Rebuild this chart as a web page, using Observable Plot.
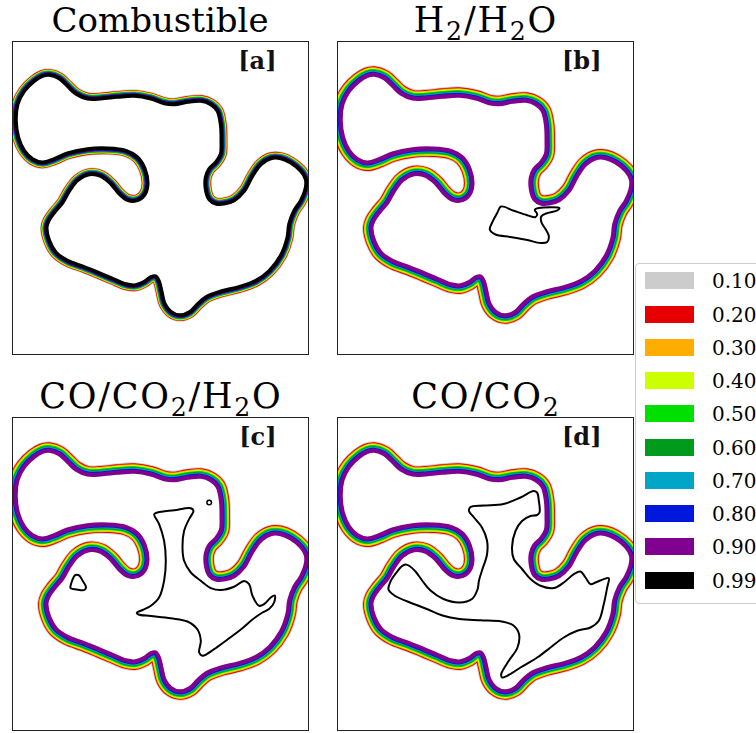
<!DOCTYPE html>
<html><head><meta charset="utf-8">
<script src="https://cdn.jsdelivr.net/npm/d3@7"></script>
<script src="https://cdn.jsdelivr.net/npm/@observablehq/plot@0.6"></script>
<style>
html,body{margin:0;padding:0;background:#fff;}
body{width:756px;height:733px;position:relative;overflow:hidden;font-family:"DejaVu Serif",serif;color:#000;}
.panel{position:absolute;}
.title{position:absolute;text-align:center;font-size:34px;line-height:34px;white-space:nowrap;}
.chem{letter-spacing:0.05em;padding-left:0.05em;box-sizing:border-box;font-size:35px;}
.sub{font-size:0.72em;position:relative;top:0.3em;}
#legend{position:absolute;left:635px;top:263px;width:150px;height:339px;border:1px solid #ccc;border-radius:4px;background:#fff;}
.row{position:absolute;left:9px;height:17px;width:140px;}
.sw{position:absolute;left:0;top:0;width:49px;height:17px;}
.lab{position:absolute;left:67px;top:-1px;font-size:20px;line-height:20px;white-space:nowrap;}
</style></head>
<body>
<div id="root"></div>
<script>
// ---- data (frame-relative coordinates, y measured downward) ----
const levels = ["0.10","0.20","0.30","0.40","0.50","0.60","0.70","0.80","0.90","0.99"];
const levelColors = ["#cccccc","#e60000","#ffae00","#ccff00","#00e000","#009a1c","#00a5c7","#0018dc","#80008f","#000000"];

const panelTitles = ["Combustible","H<span class='sub'>2</span>/H<span class='sub'>2</span>O","CO/CO<span class='sub'>2</span>/H<span class='sub'>2</span>O","CO/CO<span class='sub'>2</span>"];
const panelLabels = ["[a]","[b]","[c]","[d]"];

const frontX = [36.7,46.7,55,63.3,75,88.3,105,121.7,138.3,151.7,161.7,175,188.3,198.3,205,208.3,209,208.3,203.3,196.7,193.3,193.3,196.7,203.3,211.7,221.7,231.7,240,248.3,258.3,268.3,278.3,288.3,293.3,293.3,288.3,281.7,276.7,275,268.3,257,243.5,226.5,208.5,194,185,177.5,167.5,158.5,152,149,146.5,143,138.5,131.5,123,113.5,100.5,87,71.7,55,43.3,36.7,34,36,41.7,50,56.7,65,76.7,88.3,98.3,106.7,115,125,132.3,135,132.3,125,113.3,95,75,55,41.7,30,20,11.7,5.7,3.3,5,11.7,21.7,30];
const frontY = [33.3,36.7,44.3,52,57,57,55.3,54.3,57,61.7,62.7,60.3,59.3,62.7,69.3,82.7,99.3,112.7,121,127.7,136,147.7,157.7,162,162,158.7,149.3,134.3,122.7,116.7,116.7,121,129.3,137.7,146,159.3,169.3,182.7,196,214.3,229.3,239.3,245.6,250,255.5,263,270.5,273.8,270.5,262,250,240,234.8,235.5,240.5,243.8,242.8,237.5,231.8,225.5,219.3,211,199.3,186,179.3,171,161,149.3,138.7,132.7,134.3,142,152,158.3,158.7,152.7,142.7,127.7,116,109.3,107,107.7,112,117.7,121,117.7,109.3,96,79.3,62.7,49.3,39.3,34.3];

// panel [b] 0.99 contour
const b99X = [163.5,176.3,189.7,198,199.7,197.3,201.3,222,219.7,209.7,203.7,204,208,211.3,209.7,203,189.7,173,158,152.3,154.7,159.7];
const b99Y = [165,169.3,173.7,175.7,172.6,168.3,166.6,166.6,169,171.6,175,181,187.6,194.3,200.5,201.5,198.5,195.5,193,188,181,171.6];

// panel [c] 0.99 contours
const c99X = [141.7,145,161.7,178.3,181,176.6,171.6,170,171.6,178.3,188.3,198.3,208.3,221.6,231.6,236.6,240,246.6,251.6,258.3,262.3,261.6,256.6,250,240,228.3,215,201.7,190,186.7,188.3,185,175,158.3,138.3,126,124.3,130,138,146.6,151.6,153.3,151.6,146.6];
const c99Y = [96.7,95,92.7,90.7,93.3,101.6,113.3,130,143.3,155,163.3,170.6,172.6,169.3,163.5,166.6,178.3,188.3,186.6,180,178,185,191.6,195,202,212,222,231.7,238.3,235,223.3,212,204,200.8,198.5,197,195.3,192.5,188.5,180,163.3,143.3,123.3,106.6];
const c99TriX = [63,66.5,70,73.5,72,64,58,59,61];
const c99TriY = [157.5,157.8,163,169.5,172.5,172,170.5,165,160];
const c99DotX = [196.7];
const c99DotY = [85];

// panel [d] 0.99 contour
const d99X = [51,53,59,64,68,72,78,85,93,106,122,134.5,140,141.5,144.5,149.5,149.5,144.5,136.5,131.5,133,146,166,183,196,199.5,201.3,202,199.5,193,184.5,178,174.5,176.3,184.5,193,203,216.3,226.3,236.3,243,248,253,258,266.3,271.3,269.7,266.3,261.3,253,239.7,226.3,213,199.7,183,169.7,164.7,163.7,171.3,180,181.5,176,164,143,122,105,88,70,57];
const d99Y = [172,164,155,149,147,148.5,154,163.5,173,181.5,185,181.5,172,163,153,137,123,110,100,93.5,89.5,88,86.5,80,73.5,75,83,95,97.5,98.5,103.5,113.5,130,141.5,151.5,161.5,168.3,170.6,165,156.6,154,160,166.6,165,161.6,160.6,170,186.6,203.3,210,213.3,220,230,240,250,258.3,260,256.6,243.3,230,216.6,208,204,202.8,201.5,198,191,184,178];

// ---- helpers ----
const pts = (xs, ys) => xs.map((x, i) => ({x, y: ys[i]}));
const front = pts(frontX, frontY);
const lineOpts = {x: "x", y: "y", curve: "catmull-rom-closed", clip: true};

// band styling (outer distances of each level from the front line, in px)
const bandWide = [9.4, 8.5, 7.6, 6.7, 5.8, 4.9, 4.0, 3.1, 2.0];
const bandA = [6.5, 5.8, 5.2, 4.7, 4.2, 3.8, 3.4, 3.0, 2.5];

function frontMarks(dist, coreColor, coreWidth) {
  return [
    ...dist.map((d, i) => Plot.line(front, {...lineOpts, stroke: levelColors[i], strokeWidth: 2 * d})),
    Plot.line(front, {...lineOpts, stroke: "none", fill: "white"}),
    Plot.line(front, {...lineOpts, stroke: coreColor, strokeWidth: coreWidth})
  ];
}
const inner = (xs, ys) => Plot.line(pts(xs, ys), {...lineOpts, stroke: "#000", strokeWidth: 2, fill: "none"});

const panelMarks = [
  frontMarks(bandA, levelColors[9], 4.0),
  [...frontMarks(bandWide, levelColors[8], 4.0), inner(b99X, b99Y)],
  [...frontMarks(bandWide, levelColors[8], 4.0), inner(c99X, c99Y), inner(c99TriX, c99TriY),
    Plot.dot(pts(c99DotX, c99DotY), {x: "x", y: "y", r: 2.3, stroke: "#000", strokeWidth: 1.5, fill: "none"})],
  [...frontMarks(bandWide, levelColors[8], 4.0), inner(d99X, d99Y)]
];

const pos = [[11, 40], [336, 40], [11, 416], [336, 416]];
const titleTop = [3, 3, 379, 379];
const root = document.getElementById("root");

panelMarks.forEach((marks, k) => {
  const chart = Plot.plot({
    width: 298, height: 315, margin: 1,
    x: {domain: [0, 296], axis: null},
    y: {domain: [0, 313], reverse: true, axis: null},
    marks: [
      ...marks,
      Plot.frame({stroke: "#222", strokeWidth: 1}),
      Plot.text([panelLabels[k]], {text: d => d, frameAnchor: "top-right", textAnchor: "end", lineAnchor: "middle",
        dx: -32, dy: 20, fontSize: 24, fontWeight: "bold", fontFamily: "DejaVu Serif", fill: "#111"})
    ]
  });
  const wrap = document.createElement("div");
  wrap.className = "panel";
  wrap.style.left = pos[k][0] + "px";
  wrap.style.top = pos[k][1] + "px";
  wrap.appendChild(chart);
  root.appendChild(wrap);

  const t = document.createElement("div");
  t.className = "title" + (k > 0 ? " chem" : "");
  t.style.left = (pos[k][0] + 1) + "px";
  t.style.width = "296px";
  t.style.top = titleTop[k] + "px";
  t.innerHTML = panelTitles[k];
  root.appendChild(t);
});

// legend
const lg = document.createElement("div");
lg.id = "legend";
levels.forEach((lev, i) => {
  const r = document.createElement("div");
  r.className = "row";
  r.style.top = (8.3 + i * 33.27) + "px";
  const s = document.createElement("div");
  s.className = "sw";
  s.style.background = levelColors[i];
  const l = document.createElement("div");
  l.className = "lab";
  l.textContent = lev;
  r.appendChild(s); r.appendChild(l);
  lg.appendChild(r);
});
root.appendChild(lg);
</script>
</body></html>
